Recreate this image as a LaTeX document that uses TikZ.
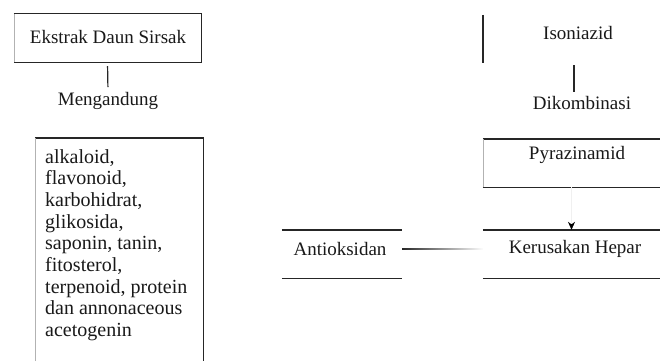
\documentclass[tikz,border=0pt]{standalone}
\usepackage{fontspec}
\setmainfont{Liberation Serif}
\usetikzlibrary{arrows.meta,fadings}
\begin{document}
\begin{tikzpicture}[x=1pt,y=-1pt,
  txt/.style={font=\fontsize{19}{21.6}\selectfont, inner sep=0pt, text=black!90},
  listtxt/.style={font=\fontsize{20}{21.7}\selectfont, inner sep=0pt, text=black!90},
  boxarea/.style={draw=none, inner sep=0pt, minimum width=#1},
  border/.style={line width=1.4pt, draw=black!85},
  faint/.style={line width=0.6pt, draw=black!30},
  conn/.style={line width=1.2pt, draw=black!85}]
\useasboundingbox[fill=white] (0,0) rectangle (660,361);

% box areas
\node[boxarea=187pt, minimum height=48pt] (E) at (107.5,38) {};
\node[boxarea=168pt, minimum height=223pt] (L) at (119,249.5) {};
\node[boxarea=182pt, minimum height=48pt] (I) at (574,39) {};
\node[boxarea=177pt, minimum height=48pt] (P) at (571.5,163) {};
\node[boxarea=177pt, minimum height=48pt] (K) at (571.5,254) {};
\node[boxarea=120pt, minimum height=48pt] (A) at (342,254) {};

% texts
\node[txt] (Et) at (108,37) {Ekstrak Daun Sirsak};
\node[txt] (Mt) at (108,101) {Mengandung};
\node[listtxt, align=left, anchor=north west] (Lt) at (45,149)
  {alkaloid,\\flavonoid,\\karbohidrat,\\glikosida,\\saponin, tanin,\\fitosterol,\\terpenoid, protein\\dan annonaceous\\acetogenin};
\node[txt] (It) at (578,33) {Isoniazid};
\node[txt] (Dt) at (582,103) {Dikombinasi};
\node[txt] (Pt) at (577,155) {Pyrazinamid};
\node[txt] (Kt) at (575,249) {Kerusakan Hepar};
\node[txt] (At) at (340,249) {Antioksidan};

% borders
\draw[border] (E.north west) -- (E.north east) -- (E.south east) -- (E.south west);
\draw[faint] (E.south west) -- (E.north west);
\draw[border] (L.north west) -- (L.north east) -- (L.south east);
\draw[faint] (L.south west) -- (L.north west);
\draw[border] (I.north west) -- (I.south west);
\draw[border] (P.north west) -- (P.north east);
\draw[border] (P.south west) -- (P.south east);
\draw[faint] (P.south west) -- (P.north west);
\draw[border] (K.north west) -- (K.north east);
\draw[border] (K.south west) -- (K.south east);
\draw[border] (A.north west) -- (A.north east);
\draw[border] (A.south west) -- (A.south east);

% connectors
\draw[conn, shorten <=4pt, shorten >=5pt] (E.south) -- (Mt.north);
\draw[conn, shorten <=2pt, shorten >=4pt] (I.south) -- (Dt.north -| I.south);
\draw[line width=0.6pt, draw=black!6, -{Stealth[length=8pt,width=7pt,black]}] (P.south) -- (K.north);
\draw[conn, path fading=east] (A.east |- At.east) -- (K.west |- At.east);
\end{tikzpicture}
\end{document}
